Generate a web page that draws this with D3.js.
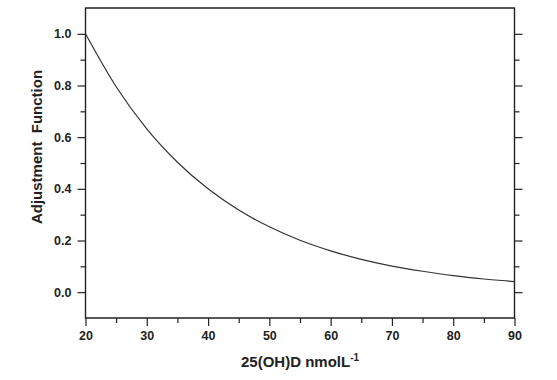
<!DOCTYPE html>
<html><head><meta charset="utf-8">
<script src="https://cdn.jsdelivr.net/npm/d3@7"></script>
<style>html,body{margin:0;padding:0;background:#fff;}svg{display:block;}</style>
</head><body>
<script>
const xValues = [20, 25, 30, 35, 40, 45, 50, 55, 60, 65, 70, 75, 80, 85, 90];
const yValues = [1.00, 0.795, 0.632, 0.503, 0.400, 0.318, 0.253, 0.201, 0.160, 0.127, 0.101, 0.081, 0.064, 0.051, 0.041];
const xMajorTicks = [20, 30, 40, 50, 60, 70, 80, 90];
const xMinorTicks = [25, 35, 45, 55, 65, 75, 85];
const yMajorTicks = [0.0, 0.2, 0.4, 0.6, 0.8, 1.0];
const yMinorTicks = [0.1, 0.3, 0.5, 0.7, 0.9];
const xTitle = "25(OH)D nmolL";
const yTitle = "Adjustment  Function";

const W = 557, H = 380;
const L = 85.5, R = 514.5, T = 8, B = 318;
const svg = d3.select("body").append("svg").attr("width", W).attr("height", H);
const x = d3.scaleLinear().domain([20, 90]).range([L, R]);
const y = d3.scaleLinear().domain([-0.1, 1.1]).range([B, T]);

const font = "'Liberation Sans', Arial, sans-serif";
const ink = "#222";

// frame
svg.append("path")
  .attr("d", `M${L},${T}H${R}V${B}H${L}Z`)
  .attr("fill", "none").attr("stroke", ink).attr("stroke-width", 1.4);

// left axis
const gL = svg.append("g").attr("transform", `translate(${L},0)`);
gL.call(d3.axisLeft(y).tickValues(yMajorTicks).tickSize(8).tickPadding(6).tickFormat(d3.format(".1f")));
gL.append("g").call(d3.axisLeft(y).tickValues(yMinorTicks).tickSize(5).tickFormat(""));
// right axis
const gR = svg.append("g").attr("transform", `translate(${R},0)`);
gR.call(d3.axisRight(y).tickValues(yMajorTicks).tickSize(8).tickFormat(""));
gR.append("g").call(d3.axisRight(y).tickValues(yMinorTicks).tickSize(5).tickFormat(""));
// bottom axis
const gB = svg.append("g").attr("transform", `translate(0,${B})`);
gB.call(d3.axisBottom(x).tickValues(xMajorTicks).tickSize(8).tickPadding(5).tickFormat(d3.format("d")));
gB.append("g").call(d3.axisBottom(x).tickValues(xMinorTicks).tickSize(5).tickFormat(""));

svg.selectAll(".domain").remove();
svg.selectAll(".tick line").attr("stroke", ink).attr("stroke-width", 1.2);
svg.selectAll(".tick text").attr("fill", ink).attr("font-family", font)
  .attr("font-size", 12.5).attr("font-weight", "bold");

// curve
const line = d3.line().x((d, i) => x(xValues[i])).y(d => y(d)).curve(d3.curveMonotoneX);
svg.append("path").datum(yValues).attr("d", line)
  .attr("fill", "none").attr("stroke", "#333").attr("stroke-width", 1.2);

// titles
const xt = svg.append("text").attr("x", (L + R) / 2).attr("y", 367)
  .attr("text-anchor", "middle").attr("font-family", font).attr("font-size", 15)
  .attr("font-weight", "bold").attr("fill", ink);
xt.append("tspan").text(xTitle);
xt.append("tspan").attr("dy", -6).attr("font-size", 10).text("-1");

svg.append("text").attr("transform", `translate(42,147) rotate(-90)`)
  .attr("text-anchor", "middle").attr("font-family", font).attr("font-size", 15)
  .attr("font-weight", "bold").attr("fill", ink).attr("xml:space", "preserve")
  .style("white-space", "pre").text(yTitle);
</script>
</body></html>
